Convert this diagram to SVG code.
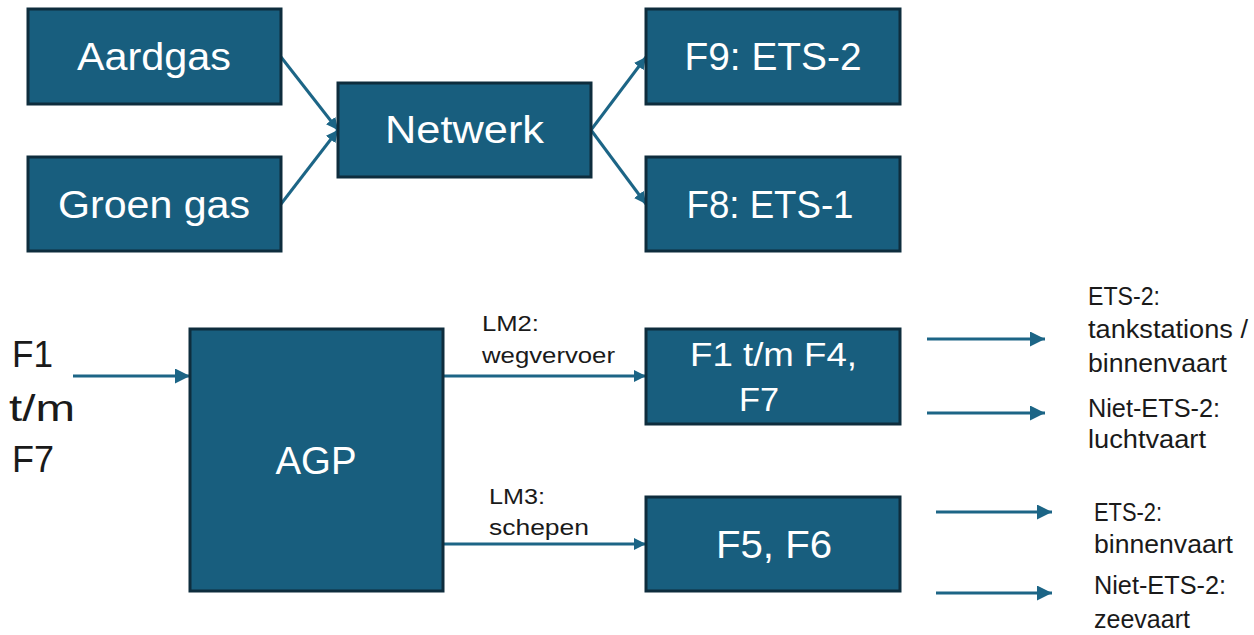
<svg xmlns="http://www.w3.org/2000/svg" width="1254" height="635" viewBox="0 0 1254 635">
<style>
.box{fill:#185e7e;stroke:#0e2d3d;stroke-width:3}
.bt{font-family:"Liberation Sans",Arial,sans-serif;fill:#ffffff;text-anchor:middle}
.lt{font-family:"Liberation Sans",Arial,sans-serif;fill:#1a1a1a}
.con{stroke:#1c6586;stroke-width:3;fill:none}
</style>
<defs>
<marker id="ah" viewBox="0 0 10 10" refX="10" refY="5" markerUnits="userSpaceOnUse" markerWidth="15" markerHeight="15" orient="auto">
<path d="M0,0 L10,5 L0,10 z" fill="#1c6586"/>
</marker>
<marker id="ahs" viewBox="0 0 10 10" refX="10" refY="5" markerUnits="userSpaceOnUse" markerWidth="12" markerHeight="12" orient="auto">
<path d="M0,0 L10,5 L0,10 z" fill="#1c6586"/>
</marker>
</defs>
<rect width="1254" height="635" fill="#ffffff"/>
<g id="connectors">
<line class="con" x1="281" y1="57" x2="338" y2="130" marker-end="url(#ahs)"/>
<line class="con" x1="281" y1="204" x2="338" y2="130" marker-end="url(#ahs)"/>
<line class="con" x1="591" y1="130" x2="646" y2="57" marker-end="url(#ahs)"/>
<line class="con" x1="591" y1="130" x2="646" y2="204" marker-end="url(#ahs)"/>
<line class="con" x1="73" y1="376" x2="190" y2="376" marker-end="url(#ah)"/>
<line class="con" x1="443" y1="376" x2="646" y2="376" marker-end="url(#ahs)"/>
<line class="con" x1="443" y1="544" x2="646" y2="544" marker-end="url(#ahs)"/>
<line class="con" x1="927" y1="339" x2="1045" y2="339" marker-end="url(#ah)"/>
<line class="con" x1="927" y1="413" x2="1045" y2="413" marker-end="url(#ah)"/>
<line class="con" x1="936" y1="512" x2="1052" y2="512" marker-end="url(#ah)"/>
<line class="con" x1="936" y1="593" x2="1052" y2="593" marker-end="url(#ah)"/>
<text class="lt" x="482" y="331" font-size="22" textLength="57" lengthAdjust="spacingAndGlyphs">LM2:</text>
<text class="lt" x="482" y="363" font-size="22" textLength="133" lengthAdjust="spacingAndGlyphs">wegvervoer</text>
<text class="lt" x="489" y="504" font-size="22" textLength="56" lengthAdjust="spacingAndGlyphs">LM3:</text>
<text class="lt" x="489" y="535" font-size="22" textLength="100" lengthAdjust="spacingAndGlyphs">schepen</text>
</g>
<g id="aardgas">
<rect class="box" x="28" y="9" width="253" height="95"/>
<text class="bt" x="154" y="70" font-size="38" textLength="154" lengthAdjust="spacingAndGlyphs">Aardgas</text>
</g>
<g id="groengas">
<rect class="box" x="28" y="157" width="253" height="94"/>
<text class="bt" x="154" y="218" font-size="38" textLength="192" lengthAdjust="spacingAndGlyphs">Groen gas</text>
</g>
<g id="netwerk">
<rect class="box" x="338" y="83" width="253" height="94"/>
<text class="bt" x="464.5" y="143" font-size="38" textLength="159" lengthAdjust="spacingAndGlyphs">Netwerk</text>
</g>
<g id="f9">
<rect class="box" x="646" y="9" width="254" height="95"/>
<text class="bt" x="773" y="70" font-size="38" textLength="177" lengthAdjust="spacingAndGlyphs">F9: ETS-2</text>
</g>
<g id="f8">
<rect class="box" x="646" y="157" width="254" height="94"/>
<text class="bt" x="770" y="218" font-size="38" textLength="167" lengthAdjust="spacingAndGlyphs">F8: ETS-1</text>
</g>
<g id="input-label">
<text class="lt" x="12" y="367" font-size="37" textLength="41" lengthAdjust="spacingAndGlyphs">F1</text>
<text class="lt" x="9" y="421" font-size="37" textLength="66" lengthAdjust="spacingAndGlyphs">t/m</text>
<text class="lt" x="12" y="472" font-size="37" textLength="42" lengthAdjust="spacingAndGlyphs">F7</text>
</g>
<g id="agp">
<rect class="box" x="190" y="329" width="253" height="262"/>
<text class="bt" x="316" y="474" font-size="38" textLength="81" lengthAdjust="spacingAndGlyphs">AGP</text>
</g>
<g id="f1f4f7">
<rect class="box" x="646" y="329" width="254" height="95"/>
<text class="bt" x="773.5" y="366" font-size="33" textLength="167" lengthAdjust="spacingAndGlyphs">F1 t/m F4,</text>
<text class="lt" x="739" y="411" font-size="33" textLength="40" lengthAdjust="spacingAndGlyphs" fill="#ffffff" style="fill:#ffffff">F7</text>
</g>
<g id="f5f6">
<rect class="box" x="646" y="497" width="254" height="94"/>
<text class="bt" x="774" y="558" font-size="38" textLength="116" lengthAdjust="spacingAndGlyphs">F5, F6</text>
</g>
<g id="out-labels">
<text class="lt" x="1088" y="305" font-size="25" textLength="72" lengthAdjust="spacingAndGlyphs">ETS-2:</text>
<text class="lt" x="1088" y="338" font-size="25" textLength="160" lengthAdjust="spacingAndGlyphs">tankstations /</text>
<text class="lt" x="1088" y="372" font-size="25" textLength="139" lengthAdjust="spacingAndGlyphs">binnenvaart</text>
<text class="lt" x="1088" y="417" font-size="25" textLength="132" lengthAdjust="spacingAndGlyphs">Niet-ETS-2:</text>
<text class="lt" x="1088" y="448" font-size="25" textLength="118" lengthAdjust="spacingAndGlyphs">luchtvaart</text>
<text class="lt" x="1094" y="521" font-size="25" textLength="68" lengthAdjust="spacingAndGlyphs">ETS-2:</text>
<text class="lt" x="1094" y="553" font-size="25" textLength="139" lengthAdjust="spacingAndGlyphs">binnenvaart</text>
<text class="lt" x="1094" y="594" font-size="25" textLength="132" lengthAdjust="spacingAndGlyphs">Niet-ETS-2:</text>
<text class="lt" x="1094" y="628" font-size="25" textLength="96" lengthAdjust="spacingAndGlyphs">zeevaart</text>
</g>
</svg>
